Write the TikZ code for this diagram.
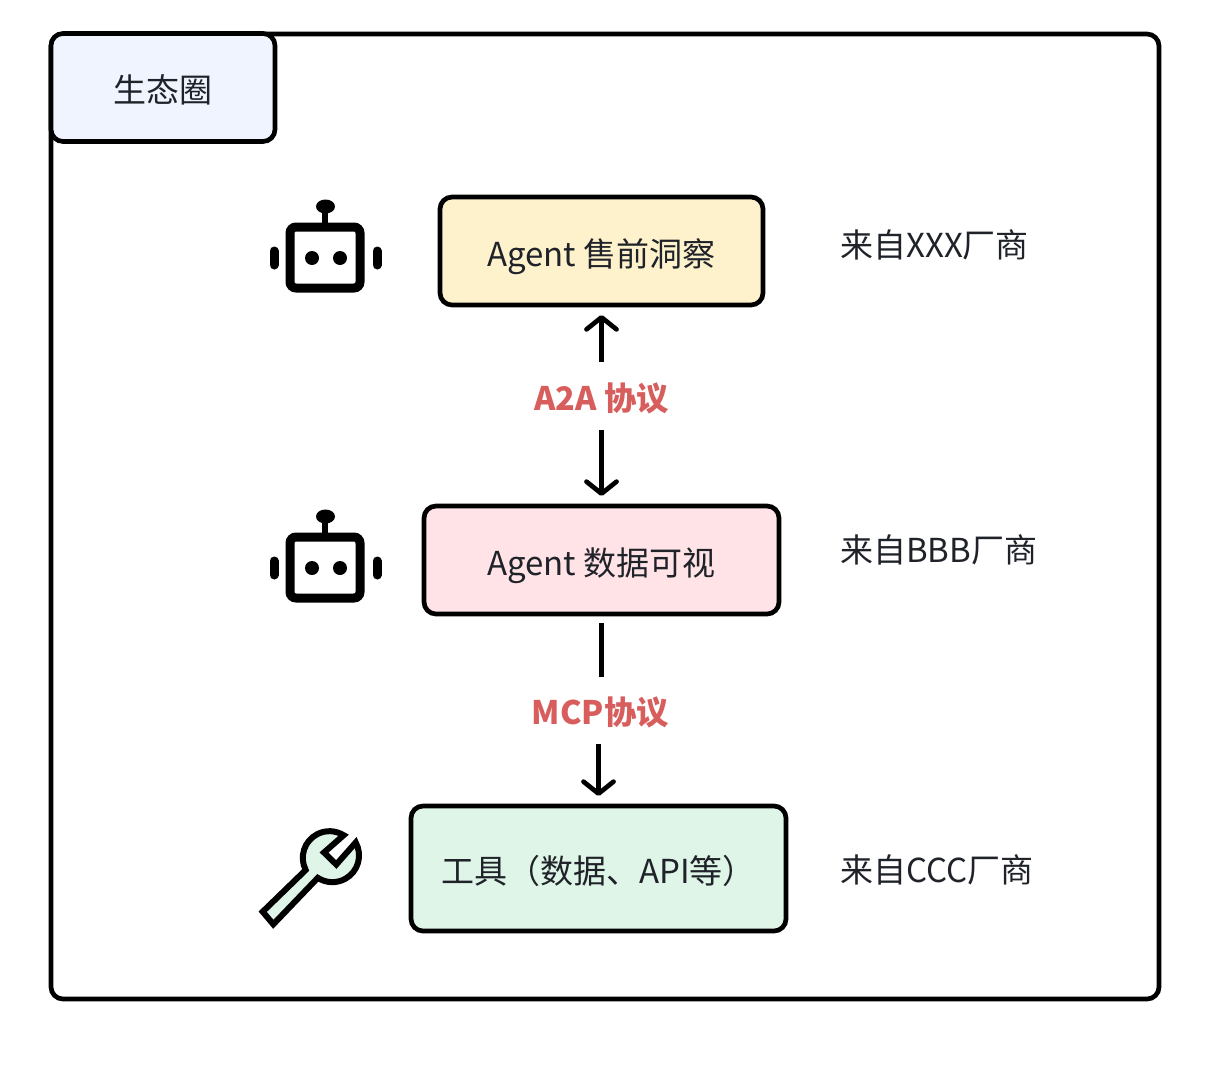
\documentclass[tikz,border=0pt]{standalone}
\usepackage{fontspec}
\setmainfont{Noto Sans CJK SC}
\usepackage{xcolor}
\usetikzlibrary{arrows.meta,positioning}
\definecolor{inkdark}{RGB}{31,35,41}
\definecolor{protored}{RGB}{216,94,94}
\definecolor{tabblue}{RGB}{239,244,254}
\definecolor{boxyellow}{RGB}{254,242,205}
\definecolor{boxpink}{RGB}{255,227,230}
\definecolor{boxgreen}{RGB}{223,245,231}
\tikzset{
  framebox/.style={draw=black,line width=4.7pt,rounded corners=12pt,inner sep=0pt,outer sep=0pt},
  agentbox/.style={framebox,font=\fontsize{33}{38}\selectfont,text=inkdark,minimum height=108pt,text height=30pt,text depth=0pt},
  protolabel/.style={font=\fontsize{32.4}{38}\selectfont\bfseries,text=protored,inner sep=0pt,outer sep=0pt,text height=28pt,text depth=0pt},
  vendorlabel/.style={anchor=west,font=\fontsize{33}{38}\selectfont,text=inkdark,inner sep=0pt},
  protoarrow/.style={line width=4.7pt,-{Straight Barb[length=12pt,width=30pt,round]}},
  protoline/.style={line width=4.7pt},
}
\newcommand{\roboticon}[1]{%
  \begin{scope}[yshift=-#1pt]
    \draw[line width=9pt,rounded corners=6pt] (290,227) rectangle (360,288);
    \fill (312,258) circle (7);
    \fill (340,258) circle (7);
    \draw[line width=6.5pt] (325,224) -- (325,208);
    \fill (325.5,206.5) ellipse (9.5 and 7);
    \draw[line width=9pt,line cap=round] (274,251) -- (274,265);
    \draw[line width=9pt,line cap=round] (377,251) -- (377,265);
  \end{scope}%
}
\begin{document}
\begin{tikzpicture}[x=1pt,y=-1pt]
  \useasboundingbox (0,0) rectangle (1208,1071);
  \node[framebox,minimum width=1108pt,minimum height=965pt] (frame) at (605,516.5) {};
  \node[agentbox,fill=tabblue,minimum width=224pt] (tab) at (163,87.5) {生态圈};
  \node[agentbox,fill=boxyellow,minimum width=323pt] (presale) at (601.5,251) {Agent 售前洞察};
  \node[agentbox,fill=boxpink,minimum width=355pt] (dataviz) at (601.5,560) {Agent 数据可视};
  \node[agentbox,fill=boxgreen,minimum width=375pt,minimum height=125pt] (tooling) at (598.5,868.5) {工具（数据、API等）};
  \node[protolabel,minimum height=68pt] (atoa) at (601.5,396) {A2A 协议};
  \node[protolabel,minimum height=67pt] (mcp) at (600.5,710.5) {MCP协议};
  \draw[protoarrow,shorten >=10pt] (atoa.north) -- (presale.south);
  \draw[protoarrow,shorten >=10pt] (atoa.south) -- (dataviz.north);
  \draw[protoline,shorten >=9pt] (dataviz.south |- mcp.north) -- (dataviz.south);
  \draw[protoarrow,shorten >=10pt] (tooling.north |- mcp.south) -- (tooling.north);
  \node[vendorlabel] (vendorx) at (840,245) {来自XXX厂商};
  \node[vendorlabel] (vendorb) at (840,550) {来自BBB厂商};
  \node[vendorlabel] (vendorc) at (840,870) {来自CCC厂商};
  \roboticon{0}
  \roboticon{310}
  \draw[fill=boxgreen,line width=6pt,miter limit=10]
    (262.7,911.7) -- (305.7,870) arc (153:302:26.7) -- (324,852.5) -- (336.3,864.5)
    -- (355.7,842.5) arc (-29:123:26.7) -- (273.3,924.3) -- cycle;
\end{tikzpicture}
\end{document}
